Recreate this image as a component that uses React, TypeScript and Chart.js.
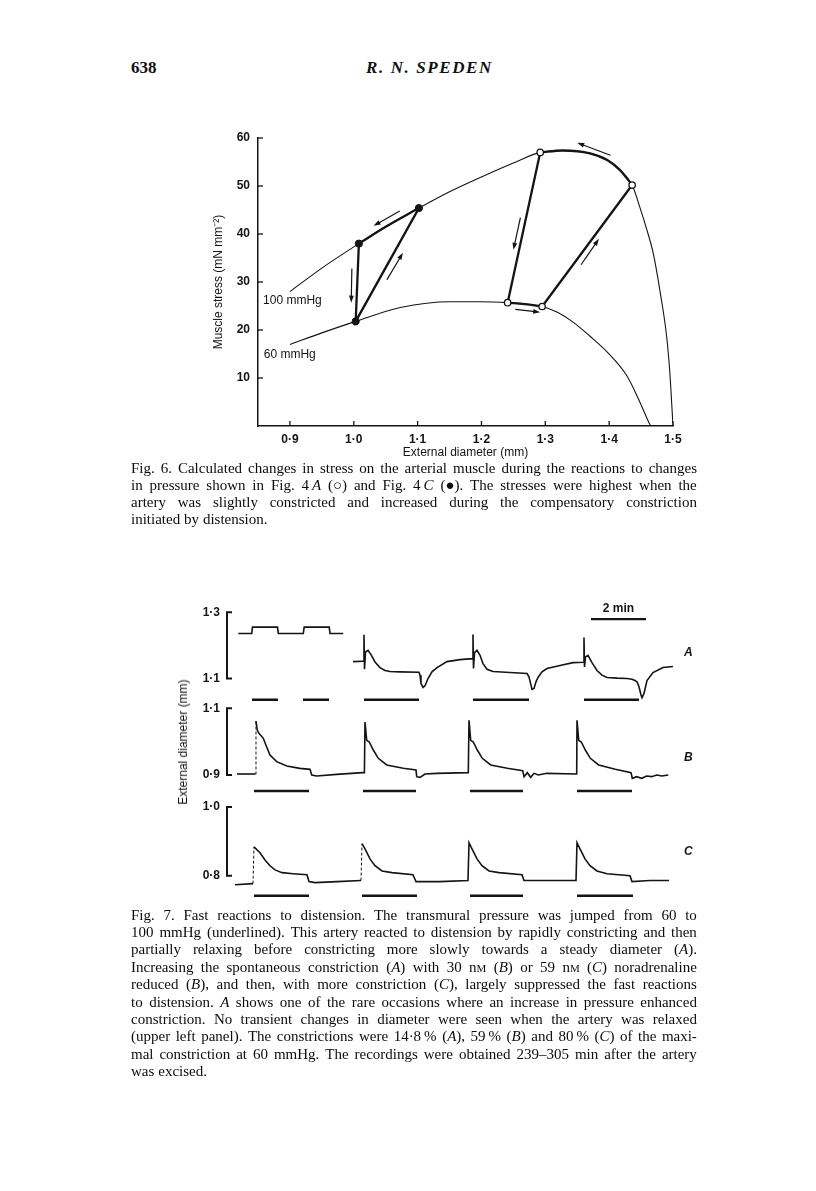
import React, { useEffect, useRef } from "react";
import { Chart, registerables } from "chart.js";
Chart.register(...registerables);

const SANS = "'Liberation Sans', Arial, Helvetica, sans-serif";
const SERIF = "'Liberation Serif', 'DejaVu Serif', serif";
const INK = "#141414";

// ---------------- Fig. 6 data ----------------
const diameterTicks = [0.9, 1.0, 1.1, 1.2, 1.3, 1.4, 1.5];
const stressTicks = [10, 20, 30, 40, 50, 60];

const curve100Diam = [0.900, 0.950, 1.008, 1.050, 1.102, 1.150, 1.200, 1.250, 1.292, 1.327, 1.370, 1.397, 1.417, 1.436, 1.448, 1.459, 1.469, 1.480, 1.490, 1.495, 1.500];
const curve100Stress = [28.0, 32.9, 38.0, 41.5, 45.4, 48.8, 51.9, 54.8, 57.0, 57.4, 56.8, 55.4, 53.3, 50.2, 45.6, 40.9, 36.0, 27.8, 18.7, 11.2, 0.0];

const curve60Diam = [0.900, 0.950, 1.003, 1.073, 1.152, 1.198, 1.241, 1.268, 1.295, 1.319, 1.344, 1.370, 1.397, 1.428, 1.448, 1.462, 1.465];
const curve60Stress = [17.0, 19.4, 21.8, 24.7, 25.9, 25.9, 25.7, 25.4, 24.9, 23.7, 21.6, 18.7, 15.4, 10.4, 5.0, 0.8, 0.0];

// Fig. 4C (filled circles): relaxed-at-100, at-60, constricted-at-100
const filledDiam = [1.008, 1.003, 1.102];
const filledStress = [38.0, 21.8, 45.4];
// Fig. 4A (open circles)
const openDiam = [1.292, 1.241, 1.295, 1.436];
const openStress = [57.0, 25.7, 24.9, 50.2];

const arrowFromDiam = [1.072, 0.997, 1.052, 1.402, 1.261, 1.356, 1.253];
const arrowFromStress = [44.8, 32.8, 30.5, 56.4, 43.4, 33.6, 24.3];
const arrowToDiam = [1.031, 0.996, 1.077, 1.350, 1.250, 1.384, 1.292];
const arrowToStress = [41.7, 25.7, 36.1, 59.0, 36.7, 39.0, 23.7];

const curveLabels = ["100 mmHg", "60 mmHg"];
const curveLabelDiam = [0.858, 0.859];
const curveLabelStress = [26.2, 14.9];

// ---------------- Fig. 7 data (time in min, diameter in mm) ----------------
const aRelaxedT = [0.375, 0.862, 0.89, 1.80, 1.83, 2.738, 2.77, 3.68, 3.71, 4.19];
const aRelaxedD = [1.236, 1.236, 1.255, 1.255, 1.236, 1.236, 1.255, 1.255, 1.236, 1.236];

const aConstrT = [4.545, 4.909, 4.927, 4.945, 4.964, 5.0, 5.091, 5.2, 5.345, 5.527, 5.709, 5.891, 6.255, 6.945, 6.982, 7.018, 7.091, 7.164, 7.273, 7.418, 7.6, 7.964, 8.436, 8.891, 8.909, 8.927, 8.964, 9.055, 9.164, 9.273, 9.418, 9.636, 10.255, 10.873, 10.945, 11.018, 11.055, 11.127, 11.2, 11.273, 11.418, 11.6, 12.073, 12.545, 12.927, 12.945, 12.964, 13.0, 13.091, 13.236, 13.418, 13.6, 13.782, 14.145, 14.509, 14.691, 14.8, 14.873, 14.945, 15.018, 15.055, 15.127, 15.236, 15.455, 15.818, 16.182];
const aConstrD = [1.151, 1.152, 1.152, 1.232, 1.128, 1.180, 1.185, 1.172, 1.150, 1.133, 1.124, 1.121, 1.120, 1.119, 1.110, 1.085, 1.073, 1.078, 1.100, 1.120, 1.133, 1.151, 1.157, 1.160, 1.233, 1.130, 1.178, 1.185, 1.170, 1.145, 1.128, 1.121, 1.118, 1.115, 1.105, 1.080, 1.067, 1.070, 1.090, 1.103, 1.120, 1.130, 1.139, 1.148, 1.149, 1.224, 1.135, 1.165, 1.170, 1.148, 1.124, 1.110, 1.103, 1.101, 1.100, 1.098, 1.094, 1.090, 1.075, 1.050, 1.042, 1.055, 1.094, 1.118, 1.133, 1.136];

const bTraceT = [0.327, 0.945, 1.0, 1.018, 1.065, 1.138, 1.284, 1.407, 1.527, 1.771, 2.135, 2.618, 2.982, 3.044, 3.225, 3.953, 4.9, 4.96, 4.982, 5.044, 5.138, 5.284, 5.465, 5.771, 6.375, 6.836, 6.862, 6.982, 7.164, 7.589, 8.738, 8.764, 8.825, 8.92, 9.065, 9.247, 9.553, 10.156, 10.716, 10.764, 10.884, 11.007, 11.127, 11.284, 11.589, 12.68, 12.691, 12.753, 12.847, 12.993, 13.175, 13.48, 14.084, 14.655, 14.702, 14.862, 15.044, 15.225, 15.407, 15.589, 15.771, 16.011];
const bTraceD = [0.903, 0.903, 0.903, 1.062, 1.034, 1.024, 1.010, 0.984, 0.960, 0.940, 0.927, 0.920, 0.917, 0.900, 0.897, 0.902, 0.907, 0.907, 1.059, 1.004, 0.999, 0.975, 0.950, 0.930, 0.920, 0.915, 0.895, 0.893, 0.903, 0.905, 0.907, 1.064, 1.004, 0.999, 0.975, 0.950, 0.930, 0.920, 0.913, 0.895, 0.907, 0.893, 0.905, 0.900, 0.905, 0.903, 1.064, 1.004, 0.999, 0.975, 0.950, 0.930, 0.917, 0.907, 0.890, 0.895, 0.890, 0.897, 0.895, 0.900, 0.897, 0.900];
const bFaintRiseAt = [2];

const cTraceT = [0.255, 0.909, 0.945, 1.055, 1.164, 1.345, 1.527, 1.709, 1.964, 2.364, 2.873, 2.945, 3.164, 3.964, 4.836, 4.873, 4.982, 5.164, 5.345, 5.6, 5.964, 6.727, 6.836, 7.709, 8.727, 8.764, 8.873, 9.055, 9.236, 9.491, 9.855, 10.691, 10.764, 11.527, 12.655, 12.691, 12.8, 12.982, 13.164, 13.418, 13.782, 14.618, 14.691, 15.345, 16.036];
const cTraceD = [0.774, 0.777, 0.884, 0.875, 0.867, 0.846, 0.829, 0.817, 0.809, 0.806, 0.803, 0.783, 0.780, 0.783, 0.786, 0.893, 0.878, 0.849, 0.829, 0.814, 0.809, 0.803, 0.783, 0.783, 0.786, 0.896, 0.878, 0.849, 0.829, 0.814, 0.809, 0.803, 0.786, 0.786, 0.786, 0.896, 0.878, 0.849, 0.829, 0.814, 0.806, 0.800, 0.783, 0.786, 0.786];
const cFaintRiseAt = [1, 14];

// 100 mmHg periods (underlines)
const aBarStart = [0.873, 2.727, 4.945, 8.909, 12.945];
const aBarEnd = [1.818, 3.673, 6.945, 10.945, 14.945];
const bBarStart = [0.945, 4.909, 8.8, 12.691];
const bBarEnd = [2.945, 6.836, 10.727, 14.691];
const cBarStart = [0.945, 4.873, 8.8, 12.691];
const cBarEnd = [2.945, 6.873, 10.727, 14.727];

const scaleBarStart = 13.2;
const scaleBarEnd = 15.2;
const scaleBarLabel = "2 min";

// ---------------- captions ----------------
const header = { page: "638", author: "R. N. SPEDEN" };
const cap6Lines = [
  "Fig. 6. Calculated changes in stress on the arterial muscle during the reactions to changes",
  "in pressure shown in Fig. 4\u2009_A_ (\u25CB) and Fig. 4\u2009_C_ (\u25CF). The stresses were highest when the",
  "artery was slightly constricted and increased during the compensatory constriction",
  "initiated by distension.",
];
const cap7Lines = [
  "Fig. 7. Fast reactions to distension. The transmural pressure was jumped from 60 to",
  "100 mmHg (underlined). This artery reacted to distension by rapidly constricting and then",
  "partially relaxing before constricting more slowly towards a steady diameter (_A_).",
  "Increasing the spontaneous constriction (_A_) with 30 n~m~ (_B_) or 59 n~m~ (_C_) noradrenaline",
  "reduced (_B_), and then, with more constriction (_C_), largely suppressed the fast reactions",
  "to distension. _A_ shows one of the rare occasions where an increase in pressure enhanced",
  "constriction. No transient changes in diameter were seen when the artery was relaxed",
  "(upper left panel). The constrictions were 14\u00B78\u2009% (_A_), 59\u2009% (_B_) and 80\u2009% (_C_) of the maxi-",
  "mal constriction at 60 mmHg. The recordings were obtained 239\u2013305 min after the artery",
  "was excised.",
];

// ---------------- helpers ----------------
type Pt = { x: number; y: number | null };
const pts = (xs: number[], ys: number[]): Pt[] => xs.map((x, i) => ({ x, y: ys[i] }));
const joinWithGaps = (parts: Pt[][]): Pt[] => {
  const out: Pt[] = [];
  parts.forEach((p, i) => {
    if (i > 0) out.push({ x: (out[out.length - 1].x + p[0].x) / 2, y: null });
    out.push(...p);
  });
  return out;
};
const barPts = (starts: number[], ends: number[], level: number): Pt[] =>
  joinWithGaps(starts.map((s, i) => [{ x: s, y: level }, { x: ends[i], y: level }]));
const dotFmt = (v: number) => v.toFixed(1).replace(".", "\u00B7");
const between = (xs: number[], ys: number[], lo: number, hi: number): Pt[] =>
  xs.map((x, i) => ({ x, y: ys[i] })).filter((p) => p.x >= lo - 1e-9 && p.x <= hi + 1e-9);

function drawArrow(ctx: CanvasRenderingContext2D, x0: number, y0: number, x1: number, y1: number) {
  const a = Math.atan2(y1 - y0, x1 - x0);
  const hl = 7, hw = 2.4;
  const c = Math.cos(a), s = Math.sin(a);
  ctx.beginPath();
  ctx.moveTo(x0, y0);
  ctx.lineTo(x1 - c * hl * 0.7, y1 - s * hl * 0.7);
  ctx.stroke();
  ctx.beginPath();
  ctx.moveTo(x1, y1);
  ctx.lineTo(x1 - c * hl - s * hw, y1 - s * hl + c * hw);
  ctx.lineTo(x1 - c * hl + s * hw, y1 - s * hl - c * hw);
  ctx.closePath();
  ctx.fill();
}

// ---------------- Fig. 6 ----------------
const fig6Overlay = {
  id: "fig6Overlay",
  afterDatasetsDraw(chart: any) {
    const { ctx, chartArea, scales } = chart;
    const x = scales.x, y = scales.y;
    ctx.save();
    ctx.strokeStyle = INK;
    ctx.fillStyle = INK;
    ctx.lineWidth = 1.3;
    diameterTicks.forEach((v) => {
      const px = x.getPixelForValue(v);
      ctx.beginPath();
      ctx.moveTo(px, chartArea.bottom);
      ctx.lineTo(px, chartArea.bottom - 5);
      ctx.stroke();
    });
    stressTicks.forEach((v) => {
      const py = y.getPixelForValue(v);
      ctx.beginPath();
      ctx.moveTo(chartArea.left, py);
      ctx.lineTo(chartArea.left + 5, py);
      ctx.stroke();
    });
    ctx.lineWidth = 1.2;
    arrowFromDiam.forEach((d, i) => {
      drawArrow(
        ctx,
        x.getPixelForValue(d),
        y.getPixelForValue(arrowFromStress[i]),
        x.getPixelForValue(arrowToDiam[i]),
        y.getPixelForValue(arrowToStress[i])
      );
    });
    ctx.font = `12px ${SANS}`;
    ctx.textAlign = "left";
    ctx.textBaseline = "middle";
    curveLabels.forEach((t, i) => {
      ctx.fillText(t, x.getPixelForValue(curveLabelDiam[i]), y.getPixelForValue(curveLabelStress[i]));
    });
    ctx.restore();
  },
};

function Fig6() {
  const ref = useRef<HTMLCanvasElement>(null);
  useEffect(() => {
    const filledLoop = [0, 1, 2].map((i) => ({ x: filledDiam[i], y: filledStress[i] }));
    const openStraight = [
      { x: openDiam[0], y: openStress[0] },
      { x: openDiam[1], y: openStress[1] },
      { x: (openDiam[1] + openDiam[2]) / 2, y: null },
      { x: openDiam[2], y: openStress[2] },
      { x: openDiam[3], y: openStress[3] },
    ];
    const arcFilled = between(curve100Diam, curve100Stress, filledDiam[0], filledDiam[2]);
    const arcOpen100 = between(curve100Diam, curve100Stress, openDiam[0], openDiam[3]);
    const arcOpen60 = between(curve60Diam, curve60Stress, openDiam[1], openDiam[2]);
    const thin = { showLine: true, pointRadius: 0, borderColor: INK, borderWidth: 1.1, cubicInterpolationMode: "monotone" };
    const thickCurve = { showLine: true, pointRadius: 0, borderColor: INK, borderWidth: 2.3, cubicInterpolationMode: "monotone" };
    const thickStraight = { showLine: true, pointRadius: 0, borderColor: INK, borderWidth: 2.3, tension: 0, spanGaps: false };
    const chart = new Chart(ref.current as HTMLCanvasElement, {
      type: "scatter",
      data: {
        datasets: [
          { label: "Fig. 4C", data: pts(filledDiam, filledStress), showLine: false, pointRadius: 3.6, pointBackgroundColor: INK, pointBorderColor: INK, pointBorderWidth: 1, order: 0 },
          { label: "Fig. 4A", data: pts(openDiam, openStress), showLine: false, pointRadius: 3.2, pointBackgroundColor: "#fff", pointBorderColor: INK, pointBorderWidth: 1.3, order: 0 },
          { label: "4C path", data: filledLoop, ...thickStraight, order: 1 },
          { label: "4C arc", data: arcFilled, ...thickCurve, order: 1 },
          { label: "4A path", data: openStraight, ...thickStraight, order: 1 },
          { label: "4A arc 100", data: arcOpen100, ...thickCurve, order: 1 },
          { label: "4A arc 60", data: arcOpen60, ...thickCurve, order: 1 },
          { label: "100 mmHg", data: pts(curve100Diam, curve100Stress), ...thin, order: 2 },
          { label: "60 mmHg", data: pts(curve60Diam, curve60Stress), ...thin, order: 2 },
        ] as any,
      },
      options: {
        responsive: false,
        animation: false,
        devicePixelRatio: 1,
        layout: { padding: { top: 18, right: 37, left: 0, bottom: 0 }, autoPadding: false },
        plugins: { legend: { display: false }, tooltip: { enabled: false } },
        scales: {
          x: {
            type: "linear",
            min: 0.85,
            max: 1.5,
            afterBuildTicks: (s: any) => { s.ticks = diameterTicks.map((v) => ({ value: v })); },
            afterFit: (s: any) => { s.height = 44; s.paddingLeft = 0; s.paddingRight = 0; },
            grid: { display: false, drawTicks: false },
            border: { display: true, color: INK, width: 1.5 },
            ticks: { padding: 6, color: INK, autoSkip: false, maxRotation: 0, font: { family: SANS, size: 12, weight: "bold" }, callback: (v: any) => dotFmt(Number(v)) },
            title: { display: true, text: "External diameter (mm)", color: INK, font: { family: SANS, size: 12 }, padding: { top: 0, bottom: 10 } },
          },
          y: {
            type: "linear",
            min: 0,
            max: 60,
            afterBuildTicks: (s: any) => { s.ticks = stressTicks.map((v) => ({ value: v })); },
            afterFit: (s: any) => { s.width = 108; s.paddingTop = 0; s.paddingBottom = 0; },
            grid: { display: false, drawTicks: false },
            border: { display: true, color: INK, width: 1.5 },
            ticks: { padding: 8, color: INK, autoSkip: false, font: { family: SANS, size: 12, weight: "bold" }, callback: (v: any) => String(v) },
            title: { display: true, text: "Muscle stress (mN mm\u207B\u00B2)", color: INK, font: { family: SANS, size: 12 }, padding: { top: 61, bottom: 0 } },
          },
        },
      } as any,
      plugins: [fig6Overlay],
    } as any);
    return () => chart.destroy();
  }, []);
  return <canvas ref={ref} width={560} height={350} style={{ position: "absolute", left: 150, top: 120, width: 560, height: 350 }} />;
}

// ---------------- Fig. 7 panels ----------------
const bracketPlugin = {
  id: "bracket",
  afterDatasetsDraw(chart: any, _args: any, opts: any) {
    const { ctx, chartArea, scales } = chart;
    const x = scales.x, y = scales.y;
    const x0 = chartArea.left - 1;
    const yTop = y.getPixelForValue(opts.hi);
    const yBot = y.getPixelForValue(opts.lo);
    ctx.save();
    ctx.strokeStyle = INK;
    ctx.fillStyle = INK;
    ctx.lineWidth = 2;
    ctx.beginPath();
    ctx.moveTo(x0 + 5, yTop);
    ctx.lineTo(x0, yTop);
    ctx.lineTo(x0, yBot);
    ctx.lineTo(x0 + 5, yBot);
    ctx.stroke();
    if (opts.scaleBar) {
      const yy = y.getPixelForValue(opts.scaleBarLevel);
      const xa = x.getPixelForValue(scaleBarStart);
      const xb = x.getPixelForValue(scaleBarEnd);
      ctx.lineWidth = 2.2;
      ctx.beginPath();
      ctx.moveTo(xa, yy);
      ctx.lineTo(xb, yy);
      ctx.stroke();
      ctx.font = `bold 12px ${SANS}`;
      ctx.textAlign = "center";
      ctx.textBaseline = "middle";
      ctx.fillText(scaleBarLabel, (xa + xb) / 2, yy - 11);
    }
    ctx.restore();
  },
};

function TracePanel(p: {
  top: number; height: number; yMin: number; yMax: number; lo: number; hi: number;
  traces: Pt[][]; barStarts: number[]; barEnds: number[]; barLevel: number;
  scaleBar?: boolean; scaleBarLevel?: number; faintRises?: number[];
}) {
  const ref = useRef<HTMLCanvasElement>(null);
  useEffect(() => {
    const faint = p.faintRises || [];
    const chart = new Chart(ref.current as HTMLCanvasElement, {
      type: "scatter",
      data: {
        datasets: [
          {
            label: "diameter", data: joinWithGaps(p.traces), showLine: true, pointRadius: 0, borderColor: INK, borderWidth: 1.6, tension: 0, spanGaps: false,
            segment: {
              borderDash: (c: any) => (faint.includes(c.p0DataIndex) ? [3, 2] : undefined),
              borderWidth: (c: any) => (faint.includes(c.p0DataIndex) ? 1 : undefined),
            },
          },
          { label: "100 mmHg", data: barPts(p.barStarts, p.barEnds, p.barLevel), showLine: true, pointRadius: 0, borderColor: INK, borderWidth: 2.6, tension: 0, spanGaps: false },
        ] as any,
      },
      options: {
        responsive: false,
        animation: false,
        devicePixelRatio: 1,
        layout: { padding: { top: 0, right: 9, left: 0, bottom: 0 }, autoPadding: false },
        plugins: {
          legend: { display: false },
          tooltip: { enabled: false },
          bracket: { lo: p.lo, hi: p.hi, scaleBar: !!p.scaleBar, scaleBarLevel: p.scaleBarLevel },
        },
        scales: {
          x: { type: "linear", min: 0, max: 17.2, display: false },
          y: {
            type: "linear",
            min: p.yMin,
            max: p.yMax,
            afterBuildTicks: (s: any) => { s.ticks = [{ value: p.lo }, { value: p.hi }]; },
            afterFit: (s: any) => { s.width = 78; s.paddingTop = 0; s.paddingBottom = 0; },
            grid: { display: false, drawTicks: false },
            border: { display: false },
            ticks: { padding: 8, color: INK, autoSkip: false, font: { family: SANS, size: 12, weight: "bold" }, callback: (v: any) => dotFmt(Number(v)) },
          },
        },
      } as any,
      plugins: [bracketPlugin],
    } as any);
    return () => chart.destroy();
  }, []);
  return <canvas ref={ref} width={560} height={p.height} style={{ position: "absolute", left: 150, top: p.top, width: 560, height: p.height }} />;
}

// ---------------- text ----------------
function RichWord({ w }: { w: string }) {
  const parts = w.split(/(_[^_]+_|~[^~]+~)/).filter((s) => s.length > 0);
  return (
    <span>
      {parts.map((s, i) =>
        s.startsWith("_") ? <i key={i}>{s.slice(1, -1)}</i> :
        s.startsWith("~") ? <span key={i} style={{ fontVariant: "small-caps" }}>{s.slice(1, -1)}</span> :
        <React.Fragment key={i}>{s}</React.Fragment>
      )}
    </span>
  );
}

function Caption({ lines, top, lh }: { lines: string[]; top: number; lh: number }) {
  return (
    <>
      {lines.map((line, i) => {
        const last = i === lines.length - 1;
        return (
          <div
            key={i}
            style={{
              position: "absolute", left: 131, top: top + i * lh, width: 566, height: lh, lineHeight: lh + "px",
              display: "flex", justifyContent: last ? "flex-start" : "space-between", gap: last ? "0.26em" : undefined,
              whiteSpace: "pre", fontFamily: SERIF, fontSize: 15, color: "#0c0c0c",
            }}
          >
            {line.split(" ").map((w, j) => <RichWord key={j} w={w} />)}
          </div>
        );
      })}
    </>
  );
}

const label = (text: string, left: number, top: number, extra: any = {}) => (
  <div style={{ position: "absolute", left, top, fontFamily: SANS, fontSize: 12, color: INK, whiteSpace: "nowrap", lineHeight: "14px", ...extra }}>{text}</div>
);

export default function App() {
  return (
    <div style={{ position: "absolute", left: 0, top: 0, width: 816, height: 1191, background: "#fff", overflow: "hidden" }}>
      <div style={{ position: "absolute", left: 131, top: 59, fontFamily: SERIF, fontWeight: "bold", fontSize: 17, color: "#111", lineHeight: "18px" }}>{header.page}</div>
      <div style={{ position: "absolute", left: 366, top: 59, fontFamily: SERIF, fontWeight: "bold", fontStyle: "italic", fontSize: 17, color: "#111", lineHeight: "18px", letterSpacing: "1.6px" }}>{header.author}</div>

      <Fig6 />
      <Caption lines={cap6Lines} top={459.5} lh={17} />

      <TracePanel top={599} height={106} yMin={1.02} yMax={1.34} lo={1.1} hi={1.3}
        traces={[pts(aRelaxedT, aRelaxedD), pts(aConstrT, aConstrD)]}
        barStarts={aBarStart} barEnds={aBarEnd} barLevel={1.036} scaleBar scaleBarLevel={1.279} />
      <TracePanel top={700} height={100} yMin={0.825} yMax={1.125} lo={0.9} hi={1.1}
        traces={[pts(bTraceT, bTraceD)]} faintRises={bFaintRiseAt}
        barStarts={bBarStart} barEnds={bBarEnd} barLevel={0.852} />
      <TracePanel top={800} height={105} yMin={0.715} yMax={1.02} lo={0.8} hi={1.0}
        traces={[pts(cTraceT, cTraceD)]} faintRises={cFaintRiseAt}
        barStarts={cBarStart} barEnds={cBarEnd} barLevel={0.742} />

      {label("A", 684, 645, { fontStyle: "italic", fontWeight: "bold" })}
      {label("B", 684, 750, { fontStyle: "italic", fontWeight: "bold" })}
      {label("C", 684, 844, { fontStyle: "italic", fontWeight: "bold" })}
      <div style={{ position: "absolute", left: 183, top: 742, width: 0, height: 0 }}>
        <div style={{ position: "absolute", left: 0, top: 0, transform: "translate(-50%, -50%) rotate(-90deg)", fontFamily: SANS, fontSize: 12, color: INK, whiteSpace: "nowrap", lineHeight: "14px" }}>External diameter (mm)</div>
      </div>

      <Caption lines={cap7Lines} top={906.5} lh={17.4} />
    </div>
  );
}
